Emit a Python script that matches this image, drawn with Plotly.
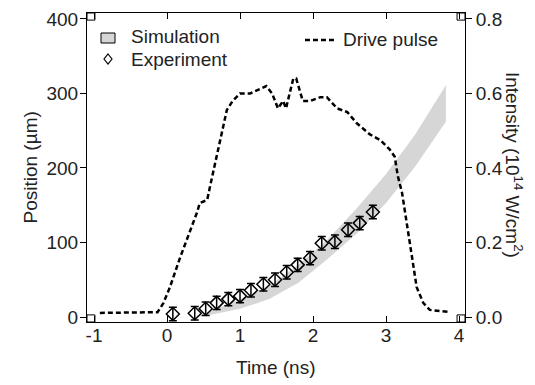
import plotly.graph_objects as go

# Drive pulse (intensity, 10^14 W/cm^2)
pulse_t = [-0.92, -0.13, -0.05, 0.04, 0.18, 0.32, 0.41, 0.45, 0.55, 0.6, 0.7, 0.82, 0.9, 1.0,
           1.14, 1.25, 1.36, 1.44, 1.52, 1.59, 1.63, 1.73, 1.77, 1.86, 1.96, 2.10, 2.19, 2.33,
           2.47, 2.60, 2.78, 2.92, 3.05, 3.12, 3.16, 3.22, 3.29, 3.36, 3.42, 3.51, 3.60, 3.88]
pulse_I = [0.011, 0.013, 0.037, 0.08, 0.16, 0.23, 0.28, 0.306, 0.314, 0.36, 0.45, 0.556, 0.58, 0.60,
           0.60, 0.61, 0.62, 0.60, 0.56, 0.58, 0.56, 0.64, 0.64, 0.58, 0.58, 0.59, 0.59, 0.56,
           0.55, 0.52, 0.49, 0.475, 0.45, 0.43, 0.38, 0.333, 0.247, 0.158, 0.08, 0.038, 0.019, 0.013]

# Simulation band (position, um)
sim_t = [0.4, 0.6, 1.0, 1.4, 1.8, 2.2, 2.6, 3.0, 3.4, 3.82]
sim_lo = [0, 3, 11, 24, 46, 78, 112, 153, 202, 262]
sim_hi = [1, 8, 24, 42, 70, 104, 146, 192, 245, 311]

# Experiment
exp_t = [0.08, 0.38, 0.53, 0.68, 0.84, 1.0, 1.15, 1.32, 1.48, 1.64, 1.79, 1.96, 2.12, 2.30, 2.48, 2.64, 2.82]
exp_pos = [4, 5, 11, 19, 24, 28, 36, 44, 50, 60, 70, 79, 99, 101, 117, 126, 141]
exp_err = [9] * len(exp_t)

x_ticks = [-1, 0, 1, 2, 3, 4]
y_ticks = [0, 100, 200, 300, 400]
y2_ticks = [0.0, 0.2, 0.4, 0.6, 0.8]

FONT = "Liberation Sans, Arial, Helvetica, sans-serif"
TXT = "#222"
band_color = "#d6d6d6"

fig = go.Figure()
fig.add_trace(go.Scatter(x=sim_t, y=sim_lo, mode="lines", line=dict(width=0, color=band_color),
                         showlegend=False, hoverinfo="skip"))
fig.add_trace(go.Scatter(x=sim_t, y=sim_hi, mode="lines", line=dict(width=0, color=band_color),
                         fill="tonexty", fillcolor=band_color, showlegend=False, hoverinfo="skip"))
fig.add_trace(go.Scatter(x=exp_t, y=exp_pos, mode="markers", name="Experiment", showlegend=False,
                         marker=dict(symbol="diamond-open", size=10, color="black", line=dict(width=1.5)),
                         error_y=dict(type="data", array=exp_err, color="black", thickness=1.5, width=4)))
fig.add_trace(go.Scatter(x=pulse_t, y=pulse_I, mode="lines", name="Drive pulse", yaxis="y2",
                         showlegend=False,
                         line=dict(color="black", width=2.5, dash="5px,3px")))

axis_common = dict(showline=True, linecolor="black", linewidth=1, showgrid=False, zeroline=False,
                   tickfont=dict(family=FONT, size=19, color=TXT), tickcolor="black", ticklen=6,
                   automargin=False)

# pixel -> paper helpers for the hand-drawn legend (plot area: x 87..465, y 13..322)
def px(x):
    return (x - 87) / 378.0

def py(y):
    return (322 - y) / 309.0

fig.update_layout(
    width=535, height=385,
    margin=dict(l=87, r=70, t=13, b=63),
    paper_bgcolor="white", plot_bgcolor="white",
    font=dict(family=FONT, size=19, color=TXT),
    showlegend=False,
    xaxis=dict(range=[-1.096, 4.082], tickvals=x_ticks, ticktext=[str(v) for v in x_ticks],
               ticks="inside", mirror="ticks", ticklabelstandoff=-4, **axis_common),
    yaxis=dict(range=[-6.7, 408], tickvals=y_ticks, ticks="outside", ticklabelstandoff=-2, **axis_common),
    yaxis2=dict(range=[-0.0134, 0.816], tickvals=y2_ticks, tickformat=".1f",
                overlaying="y", side="right", ticks="outside", **axis_common),
    annotations=[
        dict(text="Time (ns)", xref="paper", yref="paper", x=0.5, y=py(367), xanchor="center",
             yanchor="middle", showarrow=False, font=dict(family=FONT, size=19, color=TXT)),
        dict(text="Position (µm)", textangle=-90, xref="paper", yref="paper", x=px(30), y=0.5,
             xanchor="center", yanchor="middle", showarrow=False, font=dict(family=FONT, size=19, color=TXT)),
        dict(text="Intensity (10<sup>14</sup> W/cm<sup>2</sup>)", textangle=90,
             xref="paper", yref="paper", x=px(514), y=py(165), xanchor="center", yanchor="middle",
             showarrow=False, font=dict(family=FONT, size=19, color=TXT)),
        dict(text="Simulation", xref="paper", yref="paper", x=px(129), y=py(37), xanchor="left",
             yanchor="middle", showarrow=False, font=dict(family=FONT, size=19, color=TXT)),
        dict(text="Experiment", xref="paper", yref="paper", x=px(129), y=py(59), xanchor="left",
             yanchor="middle", showarrow=False, font=dict(family=FONT, size=19, color=TXT)),
        dict(text="Drive pulse", xref="paper", yref="paper", x=px(341), y=py(40), xanchor="left",
             yanchor="middle", showarrow=False, font=dict(family=FONT, size=19, color=TXT)),
    ],
)

# legend samples
fig.add_shape(type="rect", xref="paper", yref="paper", x0=px(101), x1=px(115), y0=py(43), y1=py(33),
              fillcolor=band_color, line=dict(color="black", width=1))
cx, cy, dx, dy = px(108), py(59), 4 / 378.0, 5 / 309.0
fig.add_shape(type="path", xref="paper", yref="paper",
              path=f"M {cx} {cy+dy} L {cx+dx} {cy} L {cx} {cy-dy} L {cx-dx} {cy} Z",
              line=dict(color="black", width=1.2))
fig.add_shape(type="line", xref="paper", yref="paper", x0=px(305), x1=px(337), y0=py(40), y1=py(40),
              line=dict(color="black", width=2.5, dash="5px,3px"))

# small corner boxes seen in the reference frame
for (x0, x1, y0, y1) in [(0, 0.021, 0.977, 1.0), (0, 0.021, 0, 0.023),
                         (0.979, 1.0, 0.977, 1.0), (0.979, 1.0, 0, 0.023)]:
    fig.add_shape(type="rect", xref="paper", yref="paper", x0=x0, x1=x1, y0=y0, y1=y1,
                  line=dict(color="black", width=1))

fig.write_html("out.html", config={"displayModeBar": False},
               post_script="document.body.style.margin='0';")
